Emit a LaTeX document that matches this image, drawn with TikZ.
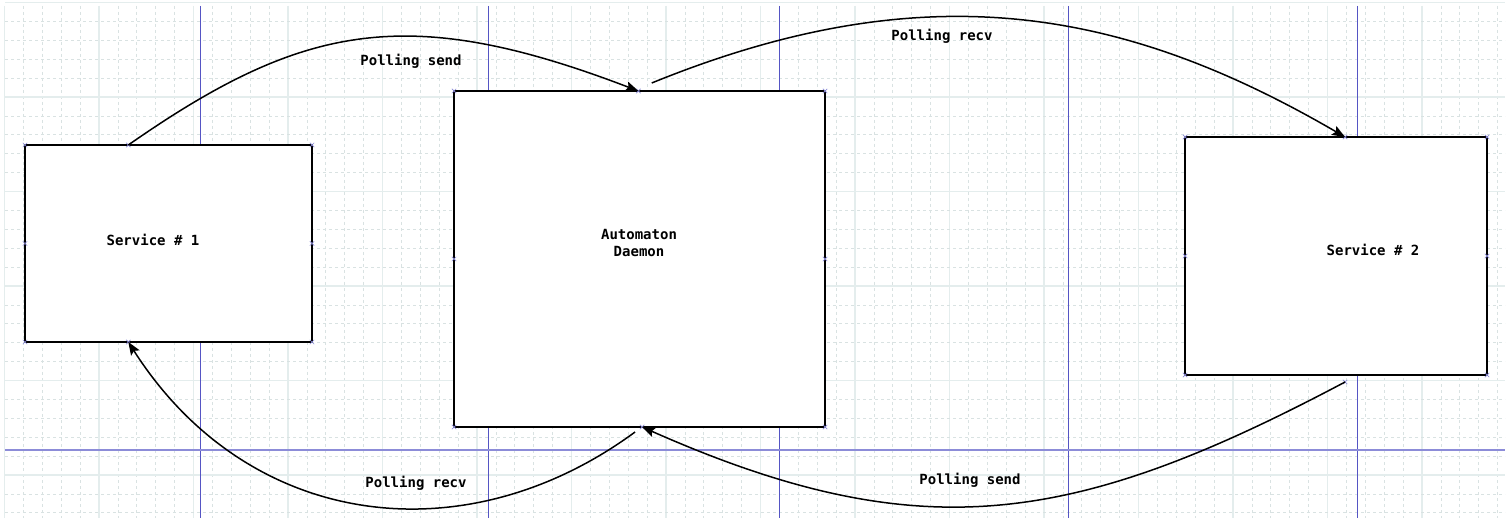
\documentclass[tikz,border=0pt]{standalone}
\usepackage{fontspec}
\setmonofont{DejaVu Sans Mono}
\usetikzlibrary{calc,arrows.meta}

\definecolor{gridminor}{HTML}{D9E2E2}
\definecolor{gridmajor}{HTML}{E4EDED}
\definecolor{guideblue}{HTML}{5555C4}
\definecolor{guidelight}{HTML}{8C8CD8}

\tikzset{
  box/.style={draw=black, line width=1.5pt, fill=white, inner sep=0pt, outer sep=0pt},
  lbl/.style={font=\ttfamily\bfseries\fontsize{14}{17}\selectfont, inner sep=0pt, align=center},
  flow/.style={line width=1.5pt, -{Stealth[length=13pt,width=10pt,inset=2.5pt]}},
  minorline/.style={gridminor, line width=0.7pt, dash pattern=on 3pt off 3pt},
  majorline/.style={gridmajor, line width=1.5pt},
  anchormark/.pic={\draw[guidelight, line width=0.7pt] (-2.2,-2.2) -- (2.2,2.2) (-2.2,2.2) -- (2.2,-2.2);}
}

\begin{document}
\begin{tikzpicture}[x=1pt, y=-1pt]
  \useasboundingbox (0,0) rectangle (1512,518);
  \fill[white] (0,0) rectangle (1512,518);

  % background grid
  \foreach \i in {0,...,79} {
    \pgfmathsetmacro{\gx}{4.5+18.9*\i}
    \pgfmathtruncatemacro{\maj}{mod(\i,5)==0 ? 1 : 0}
    \ifnum\maj=1
      \draw[majorline] (\gx,6) -- (\gx,518);
    \else
      \draw[minorline] (\gx,6) -- (\gx,518);
    \fi
  }
  \foreach \j in {0,...,27} {
    \pgfmathsetmacro{\gy}{2.5+18.9*\j}
    \pgfmathtruncatemacro{\maj}{mod(\j,5)==0 ? 1 : 0}
    \ifnum\maj=1
      \draw[majorline] (5,\gy) -- (1505,\gy);
    \else
      \draw[minorline] (5,\gy) -- (1505,\gy);
    \fi
  }

  % guide lines
  \foreach \gx in {200,488,779,1068,1357}
    \draw[guideblue, line width=1pt] (\gx,6) -- (\gx,518);
  \draw[guidelight, line width=1.8pt] (5,450) -- (1505,450);

  % boxes
  \node[box, minimum width=287pt, minimum height=197pt] (s1) at (168.5,243.5) {};
  \node[box, minimum width=371pt, minimum height=336pt] (ad) at (639.5,259) {};
  \node[box, minimum width=302pt, minimum height=238pt] (s2) at (1336,256) {};

  % box texts
  \node[lbl] (t1) at (153,240) {Service \# 1};
  \node[lbl] (tad) at (639,243) {Automaton\\Daemon};
  \node[lbl] (t2) at (1373,250) {Service \# 2};

  % connection marks
  \foreach \p in {s1.north west, s1.north east, s1.south west, s1.south east, s1.west, s1.east,
                  ad.north west, ad.north east, ad.south west, ad.south east, ad.west, ad.east,
                  s2.north west, s2.north east, s2.south west, s2.south east, s2.west, s2.east}
    \pic at (\p) {anchormark};
  \coordinate (s1top) at ($(s1.north west)!0.36!(s1.north east)$);
  \coordinate (s1bot) at ($(s1.south west)!0.36!(s1.south east)$);
  \coordinate (adtopin) at ($(ad.north west)!0.497!(ad.north east)$);
  \coordinate (adtopout) at ($(ad.north west)!0.533!(ad.north east)+(0,-8)$);
  \coordinate (adbotin) at ($(ad.south west)!0.507!(ad.south east)$);
  \coordinate (adbotout) at ($(ad.south west)!0.488!(ad.south east)+(0,5)$);
  \coordinate (s2top) at ($(s2.north west)!0.53!(s2.north east)$);
  \coordinate (s2bot) at ($(s2.south west)!0.53!(s2.south east)+(0,7)$);
  \foreach \p in {s1top, s1bot, adtopin, adbotin, s2top, s2bot}
    \pic at (\p) {anchormark};

  % polling flows
  \draw[flow] (s1top) .. controls +(175,-122) and +(-230,-88) .. (adtopin);
  \draw[flow] (adtopout) .. controls +(275,-112) and +(-220,-128) .. (s2top);
  \draw[flow] (s2bot) .. controls +(-270,143) and +(280,124) .. (adbotin);
  \draw[flow] (adbotout) .. controls +(-170,125) and +(120,188) .. (s1bot);

  % flow labels
  \node[lbl] (l1) at (411,61) {Polling send};
  \node[lbl] (l2) at (942,36) {Polling recv};
  \node[lbl] (l3) at (970,480) {Polling send};
  \node[lbl] (l4) at (416,483) {Polling recv};
\end{tikzpicture}
\end{document}
